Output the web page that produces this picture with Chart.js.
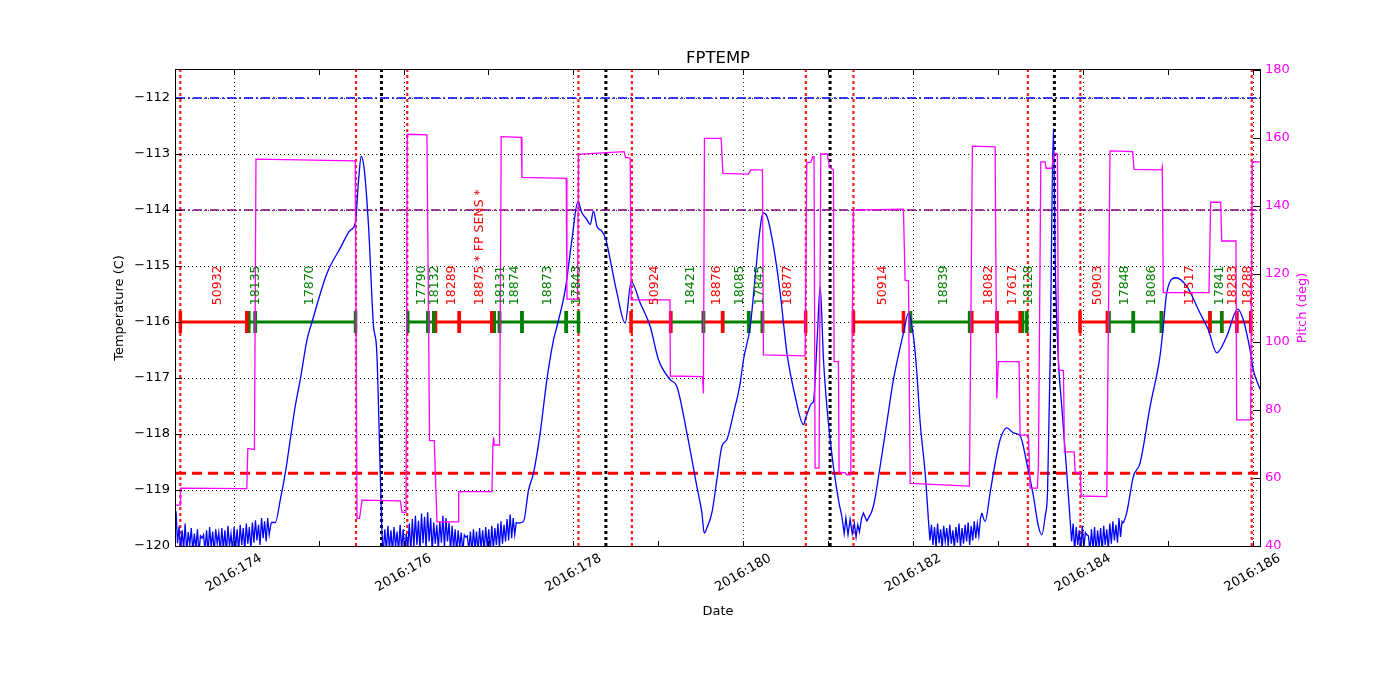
<!DOCTYPE html>
<html><head><meta charset="utf-8">
<script src="https://cdn.jsdelivr.net/npm/chart.js@4.4.1/dist/chart.umd.min.js"></script>
<style>html,body{margin:0;padding:0;background:#fff;}canvas{display:block;}</style>
</head><body>
<canvas id="c" width="1400" height="700"></canvas>
<script>
// ---------------- DATA ----------------
const chartTitle = 'FPTEMP';
const xRange = [173.319, 186.088];
const tempRange = [-120, -111.5];
const pitchRange = [40, 180];
const dateTickDays = [174, 176, 178, 180, 182, 184, 186];
const dateTickLabels = ['2016:174', '2016:176', '2016:178', '2016:180', '2016:182', '2016:184', '2016:186'];
const minorTickDays = [175, 177, 179, 181, 183, 185];
const tempTicks = [-120, -119, -118, -117, -116, -115, -114, -113, -112];
const pitchTicks = [40, 60, 80, 100, 120, 140, 160, 180];

// FPTEMP (deg C) vs day of year
const tempTime = [
 // noise window A
 173.319,173.337,173.355,173.373,173.391,173.409,173.427,173.445,173.463,173.481,
 173.499,173.517,173.535,173.553,173.571,173.589,173.607,173.625,173.643,173.661,
 173.679,173.697,173.715,173.733,173.751,173.769,173.787,173.805,173.823,173.841,
 173.859,173.877,173.895,173.913,173.931,173.949,173.967,173.985,174.003,174.021,
 174.039,174.057,174.075,174.093,174.111,174.129,174.147,174.165,174.183,174.201,
 174.219,174.237,174.255,174.273,174.291,174.309,174.327,174.345,174.363,174.381,
 174.399,174.417,174.440,
 // warm-up / cool-down
 174.489,174.548,174.606,174.665,174.724,174.783,174.862,174.921,175.098,175.254,
 175.372,175.431,175.470,175.501,175.537,175.587,175.646,175.683,175.725,175.745,175.761,
 // noise window B
 175.779,175.797,175.815,175.833,175.851,175.869,175.887,175.905,175.923,175.941,
 175.959,175.977,175.995,176.013,176.031,176.049,176.067,176.085,176.103,176.121,
 176.139,176.157,176.175,176.193,176.211,176.229,176.247,176.265,176.283,176.301,
 176.319,176.337,176.355,176.373,176.391,176.409,176.427,176.445,176.463,176.481,
 176.499,176.517,176.535,176.553,176.571,176.589,176.607,176.625,176.643,176.661,
 176.679,176.697,176.715,176.733,176.751,176.769,176.787,176.805,176.823,176.841,
 176.859,176.877,176.895,176.913,176.931,176.949,176.967,176.985,177.003,177.021,
 177.039,177.057,177.075,177.093,177.111,177.129,177.147,177.165,177.183,177.201,
 177.219,177.237,177.255,177.273,177.291,177.309,177.327,177.352,
 // smooth
 177.413,177.472,177.530,177.609,177.688,177.766,177.806,177.904,177.983,178.053,
 178.100,178.159,178.198,178.237,178.277,178.336,178.383,178.434,178.513,178.610,
 178.681,178.787,178.905,179.002,179.140,179.219,179.337,179.455,179.514,179.541,
 179.572,179.631,179.690,179.749,179.808,179.886,179.965,180.004,180.083,180.142,
 180.193,180.233,180.280,180.357,180.436,180.515,180.613,180.710,180.742,180.809,
 180.828,180.872,180.907,180.946,180.986,181.025,181.063,181.122,181.162,
 // noise window C
 181.190,181.210,181.235,181.260,181.285,181.310,181.330,181.350,181.370,181.395,
 181.417,181.457,
 // smooth
 181.534,181.613,181.692,181.770,181.869,181.888,181.947,182.006,
 182.046,182.085,182.144,182.182,
 // noise window D
 182.200,182.218,182.236,182.254,182.272,182.290,182.308,182.326,182.344,182.362,
 182.380,182.398,182.416,182.434,182.452,182.470,182.488,182.506,182.524,182.542,
 182.560,182.578,182.596,182.614,182.632,182.650,182.668,182.686,182.704,182.722,
 182.740,182.758,182.776,182.794,182.811,
 // smooth
 182.850,182.909,182.968,183.027,183.105,183.183,183.262,183.341,183.419,183.478,
 183.518,183.557,183.586,183.616,183.655,183.675,183.713,183.753,183.812,183.851,
 // noise window E
 183.869,183.887,183.905,183.923,183.941,183.959,183.977,183.995,184.013,184.031,
 184.049,184.067,184.085,184.103,184.121,184.139,184.157,184.175,184.193,184.211,
 184.229,184.247,184.265,184.283,184.301,184.319,184.337,184.355,184.373,184.391,
 184.409,184.427,184.445,184.463,184.478,
 // smooth
 184.518,184.596,184.675,184.793,184.910,184.949,184.989,185.095,185.224,185.381,
 185.479,185.578,185.695,185.825,185.891,185.970,186.009,186.088
];
const tempValue = [
 // noise window A
 -119.38,-119.95,-119.65,-120.10,-119.72,-120.05,-119.60,-120.12,-119.75,-119.98,
 -119.68,-120.10,-119.78,-120.05,-119.70,-120.12,-119.82,-119.86,-119.80,-120.08,
 -119.72,-120.12,-119.66,-120.02,-119.74,-120.12,-119.70,-119.96,-119.76,-120.10,
 -119.68,-120.06,-119.72,-120.12,-119.64,-120.00,-119.78,-120.10,-119.66,-120.04,
 -119.70,-120.12,-119.62,-119.98,-119.68,-120.08,-119.60,-119.96,-119.66,-120.06,
 -119.58,-119.94,-119.54,-119.90,-119.62,-119.98,-119.50,-119.86,-119.56,-119.92,
 -119.50,-119.80,-119.58,
 // warm-up / cool-down
 -119.58,-119.17,-118.70,-118.10,-117.50,-117.03,-116.32,-116.00,-115.13,-114.68,
 -114.36,-114.23,-113.46,-113.04,-113.28,-114.29,-116.08,-116.50,-118.70,-119.76,-120.10,
 // noise window B
 -119.70,-120.10,-119.64,-120.05,-119.72,-120.12,-119.66,-120.02,-119.74,-120.10,
 -119.62,-120.08,-119.70,-120.12,-119.78,-120.04,-119.60,-120.10,-119.52,-120.02,
 -119.46,-119.98,-119.55,-120.08,-119.42,-119.95,-119.48,-120.05,-119.40,-119.92,
 -119.50,-120.10,-119.58,-119.96,-119.62,-120.06,-119.56,-119.94,-119.46,-120.04,
 -119.50,-119.92,-119.58,-120.10,-119.64,-120.04,-119.70,-120.12,-119.72,-120.02,
 -119.76,-120.10,-119.80,-119.84,-119.82,-120.08,-119.74,-120.12,-119.70,-120.06,
 -119.74,-120.12,-119.68,-120.04,-119.72,-120.10,-119.66,-120.02,-119.70,-120.10,
 -119.64,-120.06,-119.68,-119.98,-119.60,-120.04,-119.56,-119.96,-119.62,-119.92,
 -119.52,-119.90,-119.44,-119.86,-119.50,-119.80,-119.58,-119.59,
 // smooth
 -119.56,-119.00,-118.70,-117.98,-117.03,-116.32,-116.08,-115.42,-114.53,-113.85,
 -114.05,-114.17,-114.26,-114.02,-114.29,-114.38,-114.53,-114.89,-115.48,-116.02,
 -115.28,-115.66,-116.08,-116.67,-117.03,-117.15,-117.98,-118.94,-119.41,-119.77,
 -119.68,-119.41,-118.82,-118.22,-118.10,-117.63,-117.09,-116.67,-116.08,-115.19,
 -114.41,-114.05,-114.11,-114.65,-115.48,-116.55,-117.33,-117.83,-117.69,-117.45,
 -117.42,-116.30,-115.36,-116.67,-117.51,-118.10,-118.58,-119.17,-119.47,
 // noise window C
 -119.78,-119.50,-119.80,-119.52,-119.78,-119.60,-119.84,-119.62,-119.75,-119.50,
 -119.41,-119.56,
 // smooth
 -119.29,-118.58,-117.80,-117.03,-116.32,-116.20,-115.84,-116.26,
 -116.91,-117.80,-118.70,-119.53,
 // noise window D
 -119.90,-119.62,-119.98,-119.66,-120.02,-119.60,-119.95,-119.70,-120.04,-119.64,
 -119.92,-119.68,-120.00,-119.62,-119.96,-119.72,-120.04,-119.66,-119.94,-119.60,
 -120.02,-119.68,-119.96,-119.62,-119.92,-119.58,-119.98,-119.64,-119.90,-119.56,
 -119.86,-119.60,-119.82,-119.52,-119.41,
 // smooth
 -119.56,-119.05,-118.52,-118.10,-117.89,-117.98,-118.03,-118.52,-119.11,-119.65,
 -119.80,-119.47,-119.00,-116.67,-112.54,-114.89,-116.67,-117.51,-118.70,-119.53,
 // noise window E
 -119.92,-119.60,-120.10,-119.66,-119.98,-119.72,-120.12,-119.64,-120.04,-119.76,
 -119.80,-119.82,-120.10,-119.70,-120.06,-119.66,-120.12,-119.72,-120.02,-119.68,
 -120.10,-119.64,-119.98,-119.70,-120.06,-119.60,-119.96,-119.56,-119.90,-119.62,
 -119.94,-119.50,-119.84,-119.56,-119.59,
 // smooth
 -119.41,-118.76,-118.52,-117.51,-116.61,-116.08,-115.48,-115.21,-115.36,-115.84,
 -116.14,-116.55,-116.26,-115.77,-115.96,-116.49,-116.85,-117.20
];
// Time windows in which the temperature trace is sensor noise (drawn point-to-point)
const noiseWindows = [[173.319,174.440],[175.761,177.352],[181.162,181.457],[182.182,182.811],[183.851,184.478]];

// Pitch (deg) vs day of year
const pitchTime = [
 173.319,173.368,173.372,174.153,174.165,174.243,174.261,175.431,175.451,175.481,
 175.510,175.961,175.981,176.028,176.043,176.275,176.306,176.361,176.393,176.645,
 176.649,177.041,177.052,177.060,177.068,177.130,177.150,177.386,177.394,177.916,
 177.924,178.049,178.060,178.237,178.598,178.614,178.669,178.681,179.138,179.142,
 179.521,179.532,179.544,179.741,179.761,180.062,180.091,180.227,180.239,180.730,
 180.749,180.796,180.820,180.835,180.847,180.894,180.914,180.992,181.016,181.063,
 181.071,181.122,181.130,181.200,181.220,181.267,181.299,181.888,181.907,181.947,
 181.967,182.665,182.700,182.968,182.987,183.006,183.250,183.262,183.360,183.380,
 183.466,183.478,183.506,183.557,183.569,183.635,183.663,183.702,183.714,183.773,
 183.785,183.899,183.911,183.970,183.982,184.283,184.321,184.588,184.604,184.930,
 184.937,184.949,185.487,185.507,185.625,185.637,185.805,185.813,185.978,185.996,
 186.088
];
const pitchValue = [
 52.0,52.0,57.0,56.9,68.7,68.4,153.8,153.3,48.1,48.1,
 53.5,53.3,49.9,49.9,161.1,160.9,71.0,71.0,47.1,47.1,
 56.0,56.0,69.7,72.0,69.7,69.7,160.4,160.2,148.4,148.1,
 112.6,112.6,155.2,155.5,156.0,154.3,154.1,112.4,112.4,90.0,
 89.8,84.9,159.9,159.9,149.6,149.4,150.6,150.6,96.2,95.9,
 152.7,152.9,154.5,154.5,62.9,62.9,155.3,155.3,151.4,150.6,
 94.2,94.2,61.6,61.6,60.9,60.9,138.8,139.1,118.2,118.0,
 58.4,57.6,157.6,157.4,83.4,94.2,94.2,72.6,72.6,57.0,
 57.0,63.8,153.0,153.0,151.1,151.1,155.5,155.3,91.8,91.6,
 67.7,67.7,61.6,61.6,54.7,54.5,156.2,156.0,150.8,150.6,
 151.4,114.5,114.5,141.1,141.1,129.7,129.7,77.1,77.1,153.0,
 153.0
];

// Observation segments along the -116 line
const obsLevel = -116;
const obsStart = [173.370,174.177,174.253,176.049,176.287,176.376,176.656,177.068,177.130,177.394,
  177.916,178.679,179.146,179.532,179.758,180.065,180.227,181.299,181.972,182.693,
  182.989,183.291,183.968,184.310,184.596,184.931,185.499,185.637,185.814];
const obsEnd = [174.153,174.253,175.434,176.287,176.355,176.656,177.038,177.130,177.394,177.916,
  178.060,179.146,179.532,179.758,180.065,180.227,180.736,181.888,182.667,182.989,
  183.262,183.341,184.290,184.596,184.925,185.499,185.637,185.814,185.979];
const obsLabel = ['50932','18135','17870','17790','18132','18289','18875 * FP SENS *','18131','18874','18873',
  '17843','50924','18421','18876','18085','17845','18877','50914','18839','18082',
  '17617','18128','50903','17848','18086','17517','17841','18283','18288'];
const obsGroup = ['r','g','g','g','g','r','r','g','g','g',
  'g','r','g','r','g','g','r','r','g','r',
  'r','g','r','g','g','r','g','r','r'];

// Event markers (day of year)
const redEventDays = [173.370,175.439,176.043,178.060,178.689,180.738,181.299,183.353,183.972,185.990];
const blackEventDays = [175.740,178.383,181.024,183.666];

// Horizontal limit lines (deg C)
const planLimit = -112.0;
const cautionLimit = -114.0;
const acisLimit = -118.7;

// ---------------- CHART ----------------
const groupColor = { r: '#ff0000', g: '#008000' };
const FONT = 'DejaVu Sans';
Chart.defaults.font.family = FONT;

const inNoise = t => noiseWindows.some(w => t > w[0] && t < w[1]);
const onNoiseEdge = t => noiseWindows.some(w => t === w[0] || t === w[1]);
const smoothPts = [], noisePts = [];
tempTime.forEach((t, i) => {
  const p = { x: t, y: tempValue[i] };
  if (inNoise(t)) { noisePts.push(p); return; }
  if (onNoiseEdge(t)) {
    noisePts.push(p);
    if (noiseWindows.some(w => t === w[1])) { smoothPts.push({ x: t - 1e-6, y: null }); }
    smoothPts.push(p);
    if (noiseWindows.some(w => t === w[0])) { smoothPts.push({ x: t + 1e-6, y: null }); }
    if (noiseWindows.some(w => t === w[1])) { noisePts.push({ x: t + 1e-6, y: null }); }
    return;
  }
  smoothPts.push(p);
});

const datasets = [];
datasets.push({ yAxisID:'y2', data: pitchTime.map((t,i)=>({x:t, y:pitchValue[i]})),
  borderColor:'#ff00ff', borderWidth:1.3, pointRadius:0, tension:0 });
datasets.push({ yAxisID:'y', data: smoothPts, spanGaps:false,
  borderColor:'#0000ff', borderWidth:1.3, pointRadius:0, cubicInterpolationMode:'monotone' });
datasets.push({ yAxisID:'y', data: noisePts, spanGaps:false,
  borderColor:'#0000ff', borderWidth:1.3, pointRadius:0, tension:0 });
obsStart.forEach((s,i)=>{
  const c = groupColor[obsGroup[i]];
  datasets.push({ yAxisID:'y', data:[{x:s,y:obsLevel},{x:obsEnd[i],y:obsLevel}],
    borderColor:c, borderWidth:3, pointStyle:'line', pointRotation:90, pointRadius:11,
    pointBorderWidth:3.5, pointBorderColor:c, pointBackgroundColor:c, tension:0 });
});
const hLine = (v, color, width, dash) => ({ yAxisID:'y', data:[{x:xRange[0],y:v},{x:xRange[1],y:v}],
  borderColor:color, borderWidth:width, borderDash:dash, pointRadius:0, tension:0 });
datasets.push(hLine(planLimit, '#0000ff', 1.3, [9,3,2,3]));
datasets.push(hLine(cautionLimit, '#800080', 1.3, [9,3,2,3]));
datasets.push(hLine(acisLimit, '#ff0000', 3, [10,6]));
const vLine = (d, color, width, dash) => ({ yAxisID:'y', data:[{x:d,y:tempRange[0]},{x:d,y:tempRange[1]}],
  borderColor:color, borderWidth:width, borderDash:dash, pointRadius:0, tension:0 });
blackEventDays.forEach(d => datasets.push(vLine(d, '#000000', 3, [3,3])));
redEventDays.forEach(d => datasets.push(vLine(d, 'rgba(255,0,0,0.9)', 2.2, [3,3])));

const minusFmt = v => (v < 0 ? '\u2212' + Math.abs(v) : String(v));

const deco = {
  id: 'deco',
  beforeDatasetsDraw(chart) {
    const {ctx, chartArea:a, scales} = chart;
    ctx.save();
    ctx.strokeStyle = 'rgba(0,0,0,0.85)';
    ctx.lineWidth = 1;
    ctx.setLineDash([1,3]);
    ctx.beginPath();
    dateTickDays.forEach(d => { const px = Math.round(scales.x.getPixelForValue(d)) + 0.5;
      ctx.moveTo(px, a.top); ctx.lineTo(px, a.bottom); });
    tempTicks.forEach(v => { const py = Math.round(scales.y.getPixelForValue(v)) + 0.5;
      ctx.moveTo(a.left, py); ctx.lineTo(a.right, py); });
    ctx.stroke();
    ctx.restore();
  },
  afterDraw(chart) {
    const {ctx, chartArea:a, scales} = chart;
    const xs = scales.x, ys = scales.y, y2 = scales.y2;
    ctx.save();
    ctx.setLineDash([]);
    ctx.strokeStyle = '#000';
    ctx.lineWidth = 1;
    ctx.strokeRect(a.left - 0.5, a.top - 0.5, a.right - a.left + 1, a.bottom - a.top + 1);
    ctx.beginPath();
    dateTickDays.concat(minorTickDays).forEach(d => { const px = Math.round(xs.getPixelForValue(d)) + 0.5;
      ctx.moveTo(px, a.bottom); ctx.lineTo(px, a.bottom - 5);
      ctx.moveTo(px, a.top); ctx.lineTo(px, a.top + 5); });
    tempTicks.forEach(v => { const py = Math.round(ys.getPixelForValue(v)) + 0.5;
      ctx.moveTo(a.left, py); ctx.lineTo(a.left + 6, py); });
    pitchTicks.forEach(v => { const py = Math.round(y2.getPixelForValue(v)) + 0.5;
      ctx.moveTo(a.right, py); ctx.lineTo(a.right - 6, py); });
    ctx.stroke();

    // x tick labels (rotated 30 deg, centered on tick)
    ctx.fillStyle = '#000';
    ctx.font = '13px "' + FONT + '"';
    ctx.textAlign = 'center';
    ctx.textBaseline = 'middle';
    dateTickDays.forEach((d, i) => {
      const px = xs.getPixelForValue(d);
      ctx.save();
      ctx.translate(px, a.bottom + 27);
      ctx.rotate(-Math.PI / 6);
      ctx.fillText(dateTickLabels[i], 0, 0);
      ctx.restore();
    });

    // title and axis titles
    ctx.font = '16.5px "' + FONT + '"';
    ctx.textBaseline = 'alphabetic';
    ctx.fillText(chartTitle, (a.left + a.right) / 2, a.top - 7);
    ctx.font = '13px "' + FONT + '"';
    ctx.fillText('Date', (a.left + a.right) / 2, 615);
    ctx.textBaseline = 'middle';
    ctx.save();
    ctx.translate(119.5, (a.top + a.bottom) / 2);
    ctx.rotate(-Math.PI / 2);
    ctx.fillText('Temperature (C)', 0, 0);
    ctx.restore();
    ctx.save();
    ctx.fillStyle = '#ff00ff';
    ctx.translate(1302.5, (a.top + a.bottom) / 2);
    ctx.rotate(-Math.PI / 2);
    ctx.fillText('Pitch (deg)', 0, 0);
    ctx.restore();

    // observation labels
    ctx.font = '12.5px "' + FONT + '"';
    ctx.textAlign = 'left';
    ctx.textBaseline = 'middle';
    const ly = ys.getPixelForValue(-115.7);
    obsLabel.forEach((lab, i) => {
      const px = xs.getPixelForValue((obsStart[i] + obsEnd[i]) / 2) + 4;
      ctx.save();
      ctx.fillStyle = groupColor[obsGroup[i]];
      ctx.translate(px, ly);
      ctx.rotate(-Math.PI / 2);
      ctx.fillText(lab, 0, 0);
      ctx.restore();
    });
    ctx.restore();
  }
};

new Chart(document.getElementById('c'), {
  type: 'line',
  data: { datasets },
  options: {
    responsive: false,
    devicePixelRatio: 1,
    animation: false,
    events: [],
    layout: { padding: { top: 70, left: 0, right: 0, bottom: 0 } },
    plugins: { legend: { display: false }, tooltip: { enabled: false }, title: { display: false } },
    scales: {
      x: { type: 'linear', position: 'bottom', min: xRange[0], max: xRange[1],
        grid: { display: false, drawTicks: false }, border: { display: false },
        ticks: { display: false },
        afterFit: s => { s.height = 154; } },
      y: { type: 'linear', position: 'left', min: tempRange[0], max: tempRange[1],
        grid: { display: false, drawTicks: false }, border: { display: false },
        ticks: { stepSize: 1, includeBounds: false, padding: 6, color: '#000',
          font: { size: 13, family: FONT }, callback: v => minusFmt(v) },
        afterFit: s => { s.width = 176; } },
      y2: { type: 'linear', position: 'right', min: pitchRange[0], max: pitchRange[1],
        grid: { display: false, drawTicks: false }, border: { display: false },
        ticks: { stepSize: 20, padding: 5, color: '#ff00ff',
          font: { size: 13, family: FONT } },
        afterFit: s => { s.width = 140; } }
    }
  },
  plugins: [deco]
});
</script>
</body></html>
